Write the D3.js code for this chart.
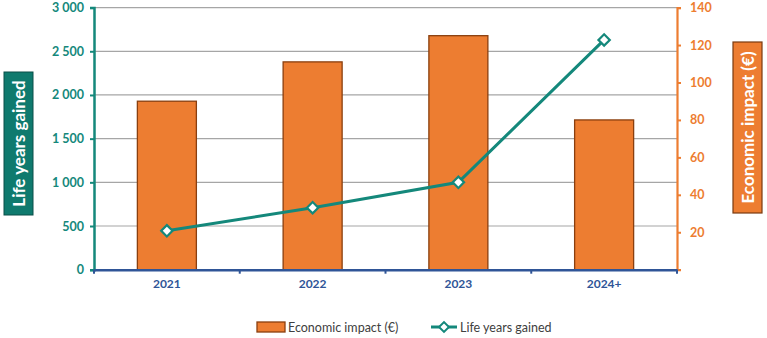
<!DOCTYPE html>
<html lang="en">
	<head>
		<meta charset="utf-8">
		<title>Life years gained and economic impact</title>
		<script src="https://d3js.org/d3.v7.min.js"></script>
		<style>
			body { margin: 0; background: #fff; }
			text { font-family: Lato, "Open Sans", sans-serif; }
		</style>
	</head>

	<body>
		<script type="text/javascript">

			// data
			var years = ["2021", "2022", "2023", "2024+"]
			var economicImpact = [90, 111, 125, 80]
			var lifeYears = [445, 710, 1000, 2630]
			var leftTicks = [0, 500, 1000, 1500, 2000, 2500, 3000]
			var rightTicks = [20, 40, 60, 80, 100, 120, 140]

			// colours
			var teal = "#14887b"
			var orange = "#ed7d31"
			var blue = "#2f5597"

			// window setup (note: "top" is a reserved window prop, so plotTop)
			var w = 767
			var h = 338
			var plotLeft = 94, plotRight = 677, plotTop = 7.6, plotBottom = 269.7

			var svg = d3.select("body")
						.append("svg")
						.attr("width", w)
						.attr("height", h)

			// scales
			var xBand = d3.scaleBand().domain(years).range([plotLeft, plotRight])

			var yLeft = d3.scaleLinear()
						.domain([0, 3000])
						.range([plotBottom, plotTop])

			var yRight = d3.scaleLinear()
						.domain([0, 140])
						.range([plotBottom, plotTop])

			var fmt = function(d){ return d3.format(",")(d).replace(/,/g, " ") }
			var cx = function(i){ return xBand(years[i]) + xBand.bandwidth()/2 }

			// gridlines
			svg.append("g")
				.selectAll("line")
				.data(leftTicks.slice(1))
				.enter()
				.append("line")
				.attr("x1", plotLeft)
				.attr("x2", plotRight)
				.attr("y1", function(d){ return yLeft(d) })
				.attr("y2", function(d){ return yLeft(d) })
				.attr("stroke", "#a6a6a6")
				.attr("stroke-width", 1.2)

			// bars
			svg.append("g")
				.selectAll("rect")
				.data(economicImpact)
				.enter()
				.append("rect")
				.attr("x", function(d, i){ return cx(i) - 29.5 })
				.attr("width", 59)
				.attr("y", function(d){ return yRight(d) })
				.attr("height", function(d){ return yRight(0) - yRight(d) })
				.attr("fill", orange)
				.attr("stroke", "#8a3f0f")
				.attr("stroke-width", 1.3)

			// left axis
			var gL = svg.append("g")
						.attr("transform", "translate(" + plotLeft + ",0)")
						.call(d3.axisLeft(yLeft).tickValues(leftTicks).tickFormat(fmt).tickSize(4).tickPadding(6))
			gL.select(".domain").attr("stroke", teal).attr("stroke-width", 2.5)
			gL.selectAll(".tick line").attr("stroke", teal).attr("stroke-width", 2)
			gL.selectAll(".tick text")
				.attr("fill", teal)
				.attr("font-weight", "bold")
				.attr("font-size", 12.5)
				.style("font-family", "Lato, sans-serif")

			// right axis
			var gR = svg.append("g")
						.attr("transform", "translate(" + plotRight + ",0)")
						.call(d3.axisRight(yRight).tickValues(rightTicks).tickSize(4).tickPadding(9))
			gR.select(".domain").attr("stroke", orange).attr("stroke-width", 2.2)
			gR.selectAll(".tick line").attr("stroke", orange).attr("stroke-width", 2)
			gR.selectAll(".tick text")
				.attr("fill", orange)
				.attr("font-weight", "bold")
				.attr("font-size", 12.5)
				.style("font-family", "Lato, sans-serif")

			// x axis
			var gX = svg.append("g")
						.attr("transform", "translate(0," + plotBottom + ")")
						.call(d3.axisBottom(xBand).tickSize(0).tickPadding(10))
			gX.select(".domain").attr("stroke", blue).attr("stroke-width", 2.5)
			gX.selectAll(".tick text")
				.attr("fill", blue)
				.attr("font-weight", "bold")
				.attr("font-size", 12)
				.style("font-family", "Lato, sans-serif")

			// x tick marks at band edges
			svg.append("g")
				.selectAll("line")
				.data(years.concat(["end"]))
				.enter()
				.append("line")
				.attr("x1", function(d, i){ return i < years.length ? xBand(d) : plotRight })
				.attr("x2", function(d, i){ return i < years.length ? xBand(d) : plotRight })
				.attr("y1", plotBottom)
				.attr("y2", plotBottom + 4)
				.attr("stroke", blue)
				.attr("stroke-width", 2)

			// line series
			var line = d3.line()
						.x(function(d, i){ return cx(i) })
						.y(function(d){ return yLeft(d) })

			svg.append("path")
				.datum(lifeYears)
				.attr("d", line)
				.attr("fill", "none")
				.attr("stroke", teal)
				.attr("stroke-width", 3)

			svg.append("g")
				.selectAll("rect")
				.data(lifeYears)
				.enter()
				.append("rect")
				.attr("x", -4)
				.attr("y", -4)
				.attr("width", 8)
				.attr("height", 8)
				.attr("transform", function(d, i){
					return "translate(" + cx(i) + "," + yLeft(d) + ") rotate(45)"
				})
				.attr("fill", "#fff")
				.attr("stroke", teal)
				.attr("stroke-width", 2.2)

			// axis titles
			svg.append("rect")
				.attr("x", 4).attr("y", 72)
				.attr("width", 29).attr("height", 143)
				.attr("fill", "#0f7a6e")
				.attr("stroke", "#0a4f48")
				.attr("stroke-width", 1)
			svg.append("text")
				.attr("transform", "translate(24.5,143.5) rotate(-90)")
				.attr("text-anchor", "middle")
				.attr("fill", "#fff")
				.attr("font-weight", "bold")
				.attr("font-size", 17)
				.text("Life years gained")

			svg.append("rect")
				.attr("x", 733).attr("y", 42)
				.attr("width", 29).attr("height", 171)
				.attr("fill", orange)
				.attr("stroke", "#7a3a10")
				.attr("stroke-width", 1.2)
			svg.append("text")
				.attr("transform", "translate(753.5,127.5) rotate(-90)")
				.attr("text-anchor", "middle")
				.attr("fill", "#fff")
				.attr("font-weight", "bold")
				.attr("font-size", 17)
				.text("Economic impact (€)")

			// legend
			var lg = svg.append("g").attr("transform", "translate(0,327)")
			lg.append("rect")
				.attr("x", 257).attr("y", -5)
				.attr("width", 28).attr("height", 10)
				.attr("fill", orange)
				.attr("stroke", "#8a3f0f")
				.attr("stroke-width", 1.3)
			lg.append("text")
				.attr("x", 288).attr("y", 4.5)
				.attr("fill", "#404040")
				.attr("font-size", 12.5)
				.text("Economic impact (€)")
			lg.append("line")
				.attr("x1", 431).attr("x2", 457)
				.attr("y1", 0).attr("y2", 0)
				.attr("stroke", teal)
				.attr("stroke-width", 3)
			lg.append("rect")
				.attr("x", -3.5).attr("y", -3.5)
				.attr("width", 7).attr("height", 7)
				.attr("transform", "translate(444,0) rotate(45)")
				.attr("fill", "#fff")
				.attr("stroke", teal)
				.attr("stroke-width", 2)
			lg.append("text")
				.attr("x", 460).attr("y", 4.5)
				.attr("fill", "#404040")
				.attr("font-size", 12.5)
				.text("Life years gained")

		</script>

	</body>
</html>
